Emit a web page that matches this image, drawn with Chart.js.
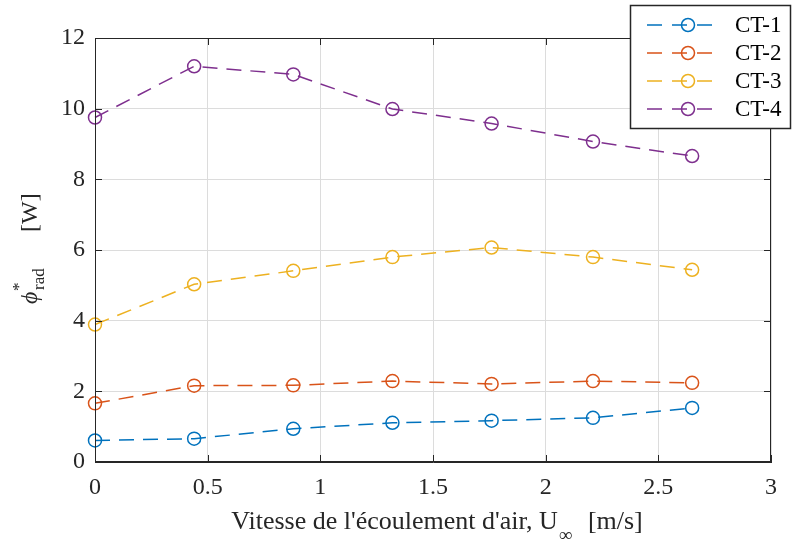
<!DOCTYPE html>
<html>
<head>
<meta charset="utf-8">
<script src="https://cdn.jsdelivr.net/npm/chart.js@4"></script>
<style>
  body { margin: 0; background: #fff; }
</style>
</head>
<body>
<canvas id="graficoRayonnement" width="793" height="542"></canvas>
<script>
// ------------------------------------------------ DONNEES ------------------------------------------------

    const vitesse = [0, 0.44, 0.88, 1.32, 1.76, 2.21, 2.65];
    const ct1 = [0.61, 0.66, 0.94, 1.11, 1.17, 1.25, 1.53];
    const ct2 = [1.66, 2.16, 2.17, 2.29, 2.21, 2.29, 2.24];
    const ct3 = [3.89, 5.03, 5.41, 5.80, 6.07, 5.80, 5.44];
    const ct4 = [9.75, 11.20, 10.97, 9.99, 9.58, 9.07, 8.66];

    const nomsSeries = ['CT-1', 'CT-2', 'CT-3', 'CT-4'];
    const couleurs = ['#0072BD', '#D95319', '#EDB120', '#7E2F8E'];
    const ticksX = [0, 0.5, 1, 1.5, 2, 2.5, 3];
    const ticksY = [0, 2, 4, 6, 8, 10, 12];

    const police = '"Liberation Serif", "Times New Roman", serif';
    const gris = '#262626';

    function serie(valeurs, i) {
        return {
            label: nomsSeries[i],
            data: vitesse.map((v, k) => ({ x: v, y: valeurs[k] })),
            showLine: true,
            borderColor: couleurs[i],
            borderWidth: 1.5,
            borderDash: [15, 9],
            pointStyle: 'circle',
            pointRadius: 6.5,
            pointHoverRadius: 6.5,
            pointBorderWidth: 1.5,
            pointBorderColor: couleurs[i],
            pointBackgroundColor: 'rgba(0,0,0,0)',
            tension: 0,
            clip: false
        };
    }

// ------------------------------------------------ AXES + LEGENDE ------------------------------------------------

    const decorations = {
        id: 'decorations',
        afterDraw(chart) {
            const ctx = chart.ctx;
            const a = chart.chartArea;
            const sx = chart.scales.x, sy = chart.scales.y;
            ctx.save();
            ctx.strokeStyle = gris;
            ctx.lineWidth = 1;
            ctx.setLineDash([]);
            // cadre
            ctx.strokeRect(a.left + 0.5, a.top + 0.5, a.right - a.left - 1, a.bottom - a.top - 1);
            // graduations internes
            ctx.beginPath();
            ticksX.forEach(v => {
                const px = Math.round(sx.getPixelForValue(v)) + 0.5;
                ctx.moveTo(px, a.bottom); ctx.lineTo(px, a.bottom - 7);
                ctx.moveTo(px, a.top); ctx.lineTo(px, a.top + 7);
            });
            ticksY.forEach(v => {
                const py = Math.round(sy.getPixelForValue(v)) + 0.5;
                ctx.moveTo(a.left, py); ctx.lineTo(a.left + 7, py);
                ctx.moveTo(a.right, py); ctx.lineTo(a.right - 7, py);
            });
            ctx.stroke();

            // titre axe x
            ctx.fillStyle = gris;
            ctx.textBaseline = 'alphabetic';
            ctx.textAlign = 'left';
            const t1 = "Vitesse de l'écoulement d'air, U";
            const t2 = '∞';
            const t3 = ' [m/s]';
            ctx.font = '26px ' + police;
            const w1 = ctx.measureText(t1).width;
            const w3 = ctx.measureText(t3).width;
            ctx.font = '19px ' + police;
            const w2 = ctx.measureText(t2).width + 10;
            let x0 = 437 - (w1 + w2 + w3) / 2;
            ctx.font = '26px ' + police;
            ctx.fillText(t1, x0, 529);
            ctx.font = '19px ' + police;
            ctx.fillText(t2, x0 + w1 + 1, 541);
            ctx.font = '26px ' + police;
            ctx.fillText(t3, x0 + w1 + w2, 529);

            // titre axe y
            ctx.save();
            ctx.translate(37, 305);
            ctx.rotate(-Math.PI / 2);
            ctx.font = 'italic 24px ' + police;
            ctx.fillText('ϕ', 1, 0);
            ctx.font = '17px ' + police;
            ctx.fillText('*', 14, -13);
            ctx.fillText('rad', 15, 7);
            ctx.font = '24px ' + police;
            ctx.fillText('[W]', 73, 0);
            ctx.restore();

            // legende
            const lx = 630, ly = 5, lw = 160, lh = 123;
            ctx.fillStyle = '#ffffff';
            ctx.fillRect(lx, ly, lw, lh);
            ctx.strokeStyle = gris;
            ctx.lineWidth = 1.5;
            ctx.strokeRect(lx + 0.5, ly + 0.5, lw, lh);
            nomsSeries.forEach((nom, i) => {
                const yy = 25 + i * 28;
                ctx.strokeStyle = couleurs[i];
                ctx.lineWidth = 1.5;
                ctx.setLineDash([15, 10]);
                ctx.beginPath();
                ctx.moveTo(647, yy); ctx.lineTo(718, yy);
                ctx.stroke();
                ctx.setLineDash([]);
                ctx.beginPath();
                ctx.arc(688, yy, 6.5, 0, Math.PI * 2);
                ctx.stroke();
                ctx.fillStyle = '#000000';
                ctx.font = '23px ' + police;
                ctx.textBaseline = 'middle';
                ctx.fillText(nom, 735, yy + 1);
            });
            ctx.restore();
        }
    };

// ------------------------------------------------ GRAPHIQUE ------------------------------------------------

    const configRayonnement = {
        type: 'scatter',
        data: {
            datasets: [serie(ct1, 0), serie(ct2, 1), serie(ct3, 2), serie(ct4, 3)]
        },
        options: {
            responsive: false,
            animation: false,
            layout: { padding: { top: 38, right: 22, left: 0, bottom: 0 } },
            plugins: {
                legend: { display: false },
                tooltip: { enabled: false }
            },
            scales: {
                x: {
                    type: 'linear',
                    min: 0,
                    max: 3,
                    afterBuildTicks(scale) { scale.ticks = ticksX.map(v => ({ value: v })); },
                    afterFit(scale) { scale.height = 80; },
                    grid: { color: '#dcdcdc', drawTicks: false },
                    border: { color: gris, width: 1 },
                    ticks: {
                        padding: 11,
                        color: gris,
                        font: { family: police, size: 24 },
                        maxRotation: 0,
                        autoSkip: false,
                        callback: v => String(v)
                    }
                },
                y: {
                    type: 'linear',
                    min: 0,
                    max: 12,
                    afterBuildTicks(scale) { scale.ticks = ticksY.map(v => ({ value: v })); },
                    afterFit(scale) { scale.width = 95; },
                    grid: { color: '#dcdcdc', drawTicks: false },
                    border: { color: gris, width: 1 },
                    ticks: {
                        padding: 10,
                        color: gris,
                        font: { family: police, size: 24 },
                        callback: v => String(v)
                    }
                }
            }
        },
        plugins: [decorations]
    };

    var rayonnementChart = new Chart(
        document.getElementById('graficoRayonnement'),
        configRayonnement
    );
</script>
</body>
</html>
